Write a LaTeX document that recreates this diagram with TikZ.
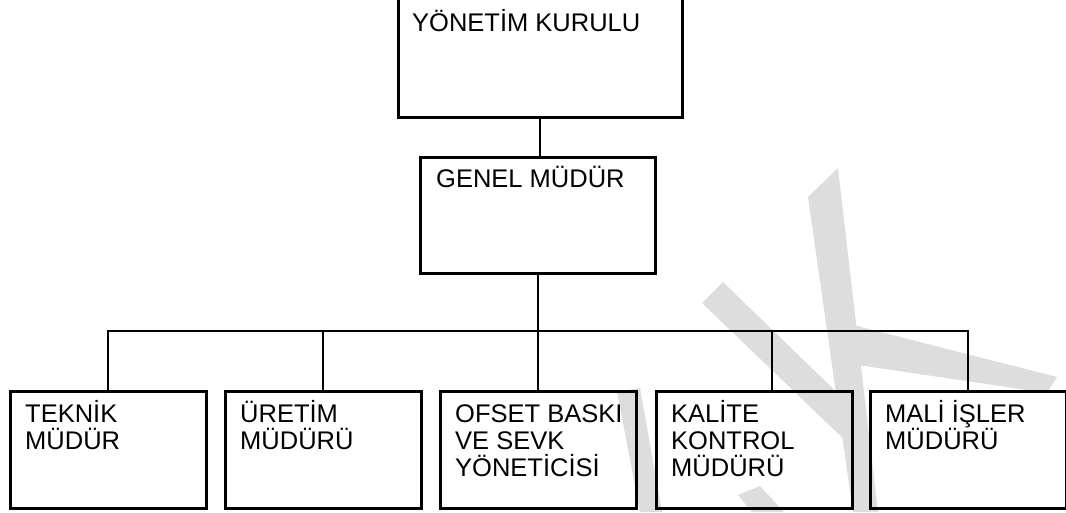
\documentclass[tikz,border=0pt]{standalone}
\usepackage{fontspec}
\setmainfont{Liberation Sans}
\definecolor{wmgray}{RGB}{221,221,221}
\begin{document}
\begin{tikzpicture}[x=1pt,y=-1pt,
  box/.style={draw=black,line width=2.6pt,inner sep=0pt,anchor=north west,minimum width=196pt,minimum height=117pt},
  txt/.style={anchor=base west,inner sep=0pt,font=\fontsize{25.5}{27}\selectfont},
  conn/.style={draw=black,line width=2.2pt},
  wm/.style={fill=wmgray,draw=none}]
\useasboundingbox (0,0) rectangle (1066,512);
% watermark
\fill[wm] (808,197) -- (838,168) -- (878,512) -- (853,512) -- cycle;
\fill[wm] (853,325) -- (1057,377) -- (1047,393) -- (858,365) -- cycle;
\fill[wm] (702,303) -- (723,282) -- (852,407) -- (852,447) -- cycle;
\fill[wm] (617,392) -- (640,388) -- (662,512) -- (640,512) -- cycle;
\fill[wm] (738,495) -- (760,486) -- (784,512) -- (752,512) -- cycle;
% boxes
\node[box,minimum width=284pt,minimum height=119pt] (yk) at (397,-3) {};
\node[box,minimum width=235pt,minimum height=116pt] (gm) at (419,156) {};
\node[box] (b1) at (9,390) {};
\node[box] (b2) at (224,390) {};
\node[box] (b3) at (439,390) {};
\node[box] (b4) at (655,390) {};
\node[box] (b5) at (869,390) {};
% texts
\node[txt] (t0) at (412,31) {YÖNETİM KURULU};
\node[txt] (tg) at (436,187) {GENEL MÜDÜR};
\node[txt] (t1) at (25,422) {\vtop{\hbox{TEKNİK}\hbox{MÜDÜR}}};
\node[txt] (t2) at (240,422) {\vtop{\hbox{ÜRETİM}\hbox{MÜDÜRÜ}}};
\node[txt] (t3) at (455,422) {\vtop{\hbox{OFSET BASKI}\hbox{VE SEVK}\hbox{YÖNETİCİSİ}}};
\node[txt] (t4) at (671,422) {\vtop{\hbox{KALİTE}\hbox{KONTROL}\hbox{MÜDÜRÜ}}};
\node[txt] (t5) at (885,422) {\vtop{\hbox{MALİ İŞLER}\hbox{MÜDÜRÜ}}};
% connectors
\coordinate (bus) at (0,331);
\coordinate (k) at (772,390);
\draw[conn] (yk.south) -- (yk.south |- gm.north);
\draw[conn] (gm.south) -- (gm.south |- b3.north);
\draw[conn] (b1.north) -- (b1.north |- bus) -- (b5.north |- bus) -- (b5.north);
\draw[conn] (b2.north) -- (b2.north |- bus);
\draw[conn] (k) -- (k |- bus);
\end{tikzpicture}
\end{document}
